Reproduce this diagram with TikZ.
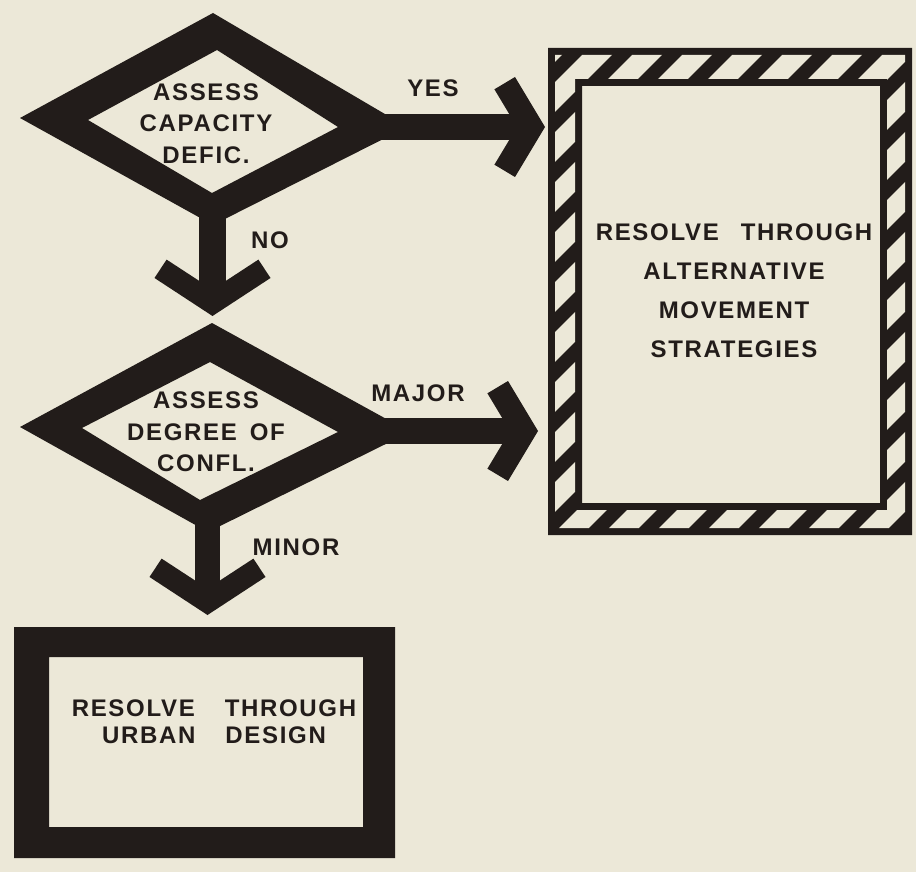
\documentclass[tikz,border=0pt]{standalone}
\usepackage{fontspec}
\newfontfamily\lab{Liberation Sans}[LetterSpace=7]
\definecolor{inkc}{RGB}{34,28,26}
\definecolor{paper}{RGB}{236,232,216}
\tikzset{
  shaft/.style={draw=inkc, line width=26pt},
  lbl/.style={text=inkc, inner sep=0pt, font={\lab\bfseries\fontsize{24}{30}\selectfont}},
  blocktext/.style={text=inkc, inner sep=0pt, align=center},
  chevR/.pic={\fill[inkc] (0,0) -- (-30,-50) -- (-50.6,-37.7) -- (-28,0) -- (-50.6,37.7) -- (-30,50) -- cycle;},
  chevD/.pic={\fill[inkc] (0,0) -- (-58,-38) -- (-45.9,-56.4) -- (0,-26.4) -- (45.9,-56.4) -- (58,-38) -- cycle;},
  stripe/.style={draw=paper, line width=21pt}
}
\begin{document}
\begin{tikzpicture}[x=1pt,y=-1pt]
\fill[paper] (0,0) rectangle (916,872);
\useasboundingbox (0,0) rectangle (916,872);

% ---- diamond 1
\coordinate (d1c) at (213,122);
\fill[inkc, even odd rule]
  (213,13) -- (407,127) -- (213,225) -- (20,118) -- cycle
  (217,50) -- (338,127) -- (212,193) -- (88,120) -- cycle;
\node[blocktext, font={\lab\bfseries\fontsize{24}{31.5}\selectfont}] (t1) at (206,123.5) {ASSESS\\CAPACITY\\DEFIC.};

% ---- diamond 2
\coordinate (d2c) at (210,430);
\fill[inkc, even odd rule]
  (212,323) -- (410,432) -- (208,532) -- (20,427) -- cycle
  (210,362) -- (338,432) -- (200,500) -- (82,428) -- cycle;
\node[blocktext, font={\lab\bfseries\fontsize{24}{31.5}\selectfont}] (t2) at (206,432) {ASSESS\\DEGREE\hspace{13pt}OF\\CONFL.};

% ---- hatched box
\fill[inkc, even odd rule] (548,48) rectangle (912,535) (582,86) rectangle (880,503);
\begin{scope}[even odd rule]
  \clip (555,55) rectangle (905,528) (575,79) rectangle (887,510);
  \foreach \c in {602,652,...,1502} \draw[stripe] (\c-20,20) -- (\c-600,600);
\end{scope}
\node[blocktext, font={\lab\bfseries\fontsize{24}{39}\selectfont}] (t3) at (734,291) {RESOLVE\hspace{22pt}THROUGH\\ALTERNATIVE\\MOVEMENT\\STRATEGIES};

% ---- bottom box
\fill[inkc, even odd rule] (14,627) rectangle (395,858) (49,657) rectangle (363,827);
\node[blocktext, font={\lab\bfseries\fontsize{24}{27}\selectfont}] (t4) at (214,721.5) {RESOLVE\hspace{30pt}THROUGH\\URBAN\hspace{30pt}DESIGN};

% ---- connectors
\coordinate (yesS) at (365,127);
\coordinate (yesT) at (545,127);
\coordinate (majS) at (365,431);
\coordinate (majT) at (538,431);
\coordinate (noS) at (212.5,205);
\coordinate (noT) at (212.5,316);
\coordinate (minS) at (207.5,512);
\coordinate (minT) at (207.5,615);

\draw[shaft] (yesS) -- ([xshift=-24pt]yesT);
\pic at (yesT) {chevR};
\draw[shaft] (majS) -- ([xshift=-24pt]majT);
\pic at (majT) {chevR};
\draw[shaft, line width=27pt] (noS) -- ([yshift=23pt]noT);
\pic at (noT) {chevD};
\draw[shaft, line width=25pt] (minS) -- ([yshift=23pt]minT);
\pic at (minT) {chevD};

% ---- labels
\node[lbl] (lyes) at (433,88) {YES};
\node[lbl] (lno) at (270,240) {NO};
\node[lbl] (lmaj) at (418,393) {MAJOR};
\node[lbl] (lmin) at (296,547) {MINOR};
\end{tikzpicture}
\end{document}
